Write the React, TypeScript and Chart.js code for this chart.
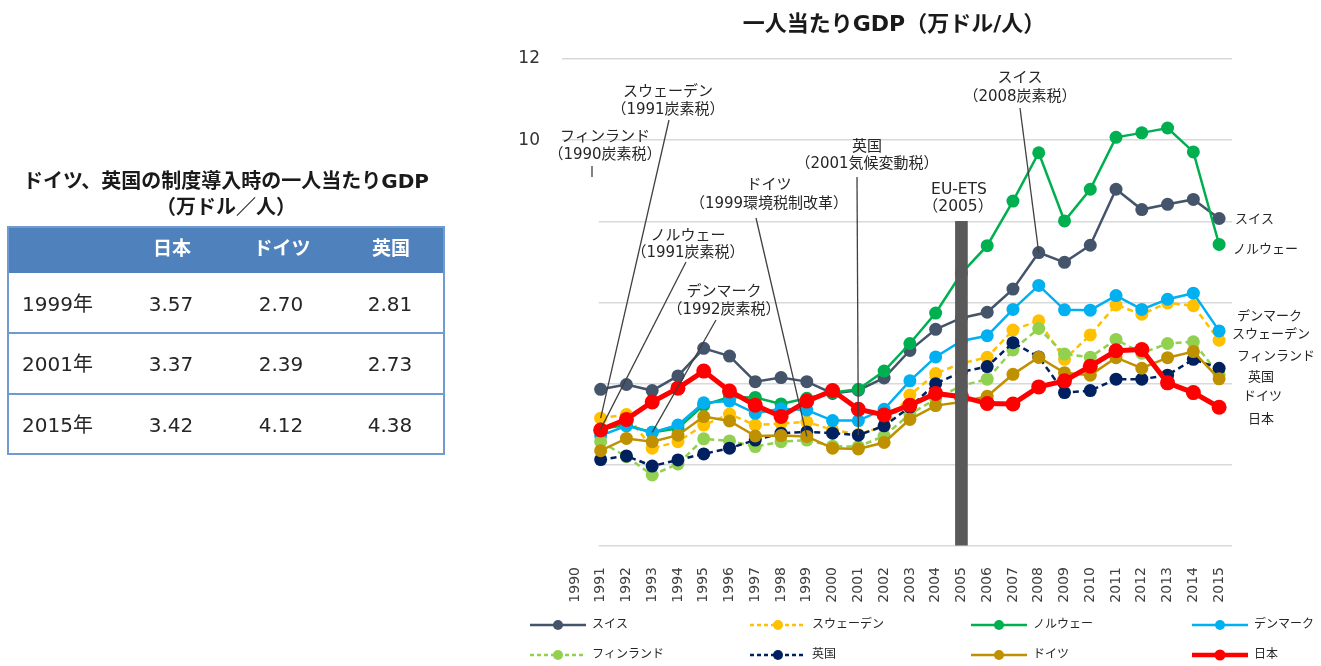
import React, { useEffect, useRef } from "react";
import { Chart, registerables } from "chart.js";

Chart.register(...registerables);

const FONT = "'DejaVu Sans', 'Noto Sans CJK JP', sans-serif";

const chartTitle = "一人当たりGDP（万ドル/人）";
const years = [
  "1990", "1991", "1992", "1993", "1994", "1995", "1996", "1997", "1998", "1999",
  "2000", "2001", "2002", "2003", "2004", "2005", "2006", "2007", "2008", "2009",
  "2010", "2011", "2012", "2013", "2014", "2015",
];

const swiss = [null, 3.86, 3.98, 3.83, 4.19, 4.87, 4.68, 4.05, 4.15, 4.05, 3.76, 3.84, 4.14, 4.82, 5.34, 5.62, 5.76, 6.33, 7.23, 6.99, 7.41, 8.79, 8.29, 8.42, 8.54, 8.07];
const sweden = [null, 3.15, 3.24, 2.41, 2.57, 2.98, 3.25, 2.98, 3.02, 3.06, 2.86, 2.75, 2.95, 3.72, 4.25, 4.5, 4.65, 5.32, 5.55, 4.6, 5.2, 5.94, 5.71, 5.99, 5.92, 5.07];
const norway = [null, 2.88, 2.98, 2.8, 2.9, 3.47, 3.67, 3.66, 3.5, 3.64, 3.78, 3.86, 4.31, 4.99, 5.74, 6.72, 7.4, 8.5, 9.69, 8.01, 8.79, 10.07, 10.18, 10.3, 9.71, 7.43];
const denmark = [null, 2.72, 2.96, 2.8, 2.98, 3.53, 3.57, 3.27, 3.38, 3.35, 3.09, 3.09, 3.37, 4.07, 4.66, 5.05, 5.18, 5.83, 6.42, 5.82, 5.81, 6.17, 5.83, 6.08, 6.23, 5.3];
const finland = [null, 2.57, 2.2, 1.75, 2.02, 2.64, 2.59, 2.45, 2.57, 2.61, 2.46, 2.45, 2.71, 3.25, 3.62, 3.95, 4.11, 4.83, 5.36, 4.73, 4.65, 5.09, 4.75, 4.99, 5.03, 4.22];
const uk = [null, 2.13, 2.22, 1.97, 2.12, 2.27, 2.41, 2.61, 2.78, 2.81, 2.78, 2.73, 2.96, 3.42, 4.0, 4.29, 4.42, 5.01, 4.66, 3.78, 3.83, 4.11, 4.11, 4.21, 4.6, 4.38];
const germany = [null, 2.35, 2.65, 2.57, 2.73, 3.19, 3.08, 2.71, 2.72, 2.7, 2.41, 2.39, 2.55, 3.12, 3.46, 3.55, 3.69, 4.23, 4.65, 4.27, 4.21, 4.64, 4.38, 4.64, 4.79, 4.12];
const japan = [null, 2.86, 3.12, 3.55, 3.89, 4.31, 3.82, 3.47, 3.19, 3.57, 3.83, 3.37, 3.23, 3.47, 3.76, 3.68, 3.51, 3.5, 3.92, 4.07, 4.43, 4.81, 4.84, 4.02, 3.78, 3.42];

const seriesNames = ["スイス", "スウェーデン", "ノルウェー", "デンマーク", "フィンランド", "英国", "ドイツ", "日本"];
const seriesColors = ["#44546A", "#FFC000", "#00B050", "#00B0F0", "#92D050", "#002060", "#BF9000", "#FF0000"];
const seriesDashed = [false, true, false, false, true, true, false, false];
const seriesData = [swiss, sweden, norway, denmark, finland, uk, germany, japan];

const euEtsYear = "2005";
const euEtsValue = 8;
const euEtsLabel = ["EU-ETS", "（2005）"];

const yMin = 0;
const yMax = 12;
const yStep = 2;
const yShownTicks = [12, 10];

// table
const tableTitle = ["ドイツ、英国の制度導入時の一人当たりGDP", "（万ドル／人）"];
const tableHeaders = ["日本", "ドイツ", "英国"];
const tableYears = ["1999年", "2001年", "2015年"];
const tableJapan = [3.57, 3.37, 3.42];
const tableGermany = [2.7, 2.39, 4.12];
const tableUK = [2.81, 2.73, 4.38];

// annotations: text lines, center x, line center ys, leader (series idx, year)
const notes = [
  { lines: ["フィンランド", "（1990炭素税）"], x: 605, ys: [137, 155], from: [592, 166], stub: [592, 177] },
  { lines: ["スウェーデン", "（1991炭素税）"], x: 668, ys: [92, 110], from: [669, 120], series: 1, year: "1991" },
  { lines: ["ノルウェー", "（1991炭素税）"], x: 688, ys: [236, 253], from: [686, 262], series: 2, year: "1991" },
  { lines: ["デンマーク", "（1992炭素税）"], x: 724, ys: [292, 310], from: [716, 320], series: 3, year: "1993" },
  { lines: ["ドイツ", "（1999環境税制改革）"], x: 769, ys: [185, 204], from: [756, 218], series: 6, year: "1999" },
  { lines: ["英国", "（2001気候変動税）"], x: 867, ys: [147, 164], from: [857, 177], series: 5, year: "2001" },
  { lines: ["スイス", "（2008炭素税）"], x: 1020, ys: [78, 97], from: [1020, 108], series: 0, year: "2008" },
];

const endLabels = [
  { text: "スイス", x: 1235, y: 220 },
  { text: "ノルウェー", x: 1233, y: 250 },
  { text: "デンマーク", x: 1237, y: 317 },
  { text: "スウェーデン", x: 1232, y: 335 },
  { text: "フィンランド", x: 1237, y: 357 },
  { text: "英国", x: 1248, y: 378 },
  { text: "ドイツ", x: 1243, y: 397 },
  { text: "日本", x: 1248, y: 420 },
];

const legendCols = [530, 750, 971, 1192];
const legendRows = [625, 655];

export default function App() {
  const ref = useRef<HTMLCanvasElement>(null);

  useEffect(() => {
    document.body.style.margin = "0";
    const canvas = ref.current;
    if (!canvas) return;
    const ctx = canvas.getContext("2d");
    if (!ctx) return;

    const txt = (c: CanvasRenderingContext2D, s: string, x: number, y: number, size: number, align: CanvasTextAlign = "center", bold = false, color = "#262626") => {
      c.save();
      c.font = `${bold ? "bold " : ""}${size}px ${FONT}`;
      c.fillStyle = color;
      c.textAlign = align;
      c.textBaseline = "middle";
      c.fillText(s, x, y);
      c.restore();
    };

    const annot = {
      id: "annot",
      beforeDatasetsDraw(chart: any) {
        const c = chart.ctx;
        const xs = chart.scales.x;
        const ys = chart.scales.y;
        const left = chart.chartArea.left - 2;
        const right = xs.getPixelForValue(1) - 2;
        const top = ys.getPixelForValue(9);
        const bottom = ys.getPixelForValue(0) + 3;
        c.save();
        c.fillStyle = "#ffffff";
        c.fillRect(left, top, right - left, bottom - top);
        c.restore();
      },
      afterDraw(chart: any) {
        const c = chart.ctx;
        const xs = chart.scales.x;
        const ys = chart.scales.y;
        txt(c, chartTitle, 894, 25, 22, "center", true, "#1a1a1a");
        for (const n of notes) {
          n.lines.forEach((l, i) => txt(c, l, n.x, n.ys[i], 15));
          c.save();
          c.strokeStyle = "#404040";
          c.lineWidth = 1.3;
          c.beginPath();
          c.moveTo(n.from[0], n.from[1]);
          if ((n as any).stub) {
            c.lineTo((n as any).stub[0], (n as any).stub[1]);
          } else {
            const idx = years.indexOf((n as any).year);
            const v = seriesData[(n as any).series][idx] as number;
            c.lineTo(xs.getPixelForValue(idx), ys.getPixelForValue(v));
          }
          c.stroke();
          c.restore();
        }
        txt(c, euEtsLabel[0], 959, 190, 15.5);
        txt(c, euEtsLabel[1], 958, 207, 15.5);
        for (const e of endLabels) txt(c, e.text, e.x, e.y, 13, "left");
        seriesNames.forEach((name, i) => {
          const x0 = legendCols[i % 4];
          const y0 = legendRows[Math.floor(i / 4)];
          c.save();
          c.strokeStyle = seriesColors[i];
          c.lineWidth = i === 7 ? 4.5 : 2.5;
          c.setLineDash(seriesDashed[i] ? [4, 3] : []);
          c.beginPath();
          c.moveTo(x0, y0);
          c.lineTo(x0 + 56, y0);
          c.stroke();
          c.setLineDash([]);
          c.fillStyle = seriesColors[i];
          c.beginPath();
          c.arc(x0 + 28, y0, i === 7 ? 5.5 : 5, 0, Math.PI * 2);
          c.fill();
          c.restore();
          txt(c, name, x0 + 62, y0, 12, "left");
        });
      },
    };

    const lineSets = seriesNames.map((name, i) => ({
      type: "line" as const,
      label: name,
      data: seriesData[i],
      borderColor: seriesColors[i],
      backgroundColor: seriesColors[i],
      pointBackgroundColor: seriesColors[i],
      pointBorderColor: seriesColors[i],
      pointBorderWidth: 0,
      pointRadius: i === 7 ? 7.5 : 6.5,
      borderWidth: i === 7 ? 5 : 2.5,
      borderDash: seriesDashed[i] ? [6, 4] : [],
      tension: 0,
      spanGaps: false,
      order: 8 - i,
    }));

    const chart = new Chart(ctx, {
      type: "line",
      data: {
        labels: years,
        datasets: [
          ...lineSets,
          {
            type: "bar" as const,
            label: "EU-ETS",
            data: years.map((y) => (y === euEtsYear ? euEtsValue : null)),
            backgroundColor: "#595959",
            barThickness: 12,
            order: 0,
          } as any,
        ],
      },
      options: {
        responsive: false,
        animation: false,
        layout: { padding: { left: 512, right: 89, top: 59, bottom: 60 } },
        plugins: { legend: { display: false }, tooltip: { enabled: false }, title: { display: false } },
        scales: {
          x: {
            type: "category",
            offset: true,
            grid: { display: false },
            border: { display: false },
            ticks: { autoSkip: false, minRotation: 90, maxRotation: 90, padding: 13, color: "#404040", font: { size: 14, family: FONT } },
            afterFit: (s: any) => { s.height = 60; },
          },
          y: {
            min: yMin,
            max: yMax,
            border: { display: false },
            grid: { color: "#d9d9d9", lineWidth: 1.5, drawTicks: false },
            ticks: {
              stepSize: yStep,
              padding: 22,
              color: "#333333",
              font: { size: 17, family: FONT },
              callback: (v: any) => (yShownTicks.includes(Number(v)) ? String(v) : ""),
            },
            afterFit: (s: any) => { s.width = 50; },
          },
        },
      } as any,
      plugins: [annot],
    });
    return () => chart.destroy();
  }, []);

  const rowYs = [304, 364, 425];
  const colXs = [171, 281, 390];
  const border = "#6F9BD1";
  const cell = (text: string, cx: number, cy: number, style: any = {}) => (
    <div key={`${text}-${cx}-${cy}`} style={{ position: "absolute", left: cx - 70, top: cy - 15, width: 140, height: 30, lineHeight: "30px", textAlign: "center", ...style }}>{text}</div>
  );

  return (
    <div style={{ position: "absolute", left: 0, top: 0, width: 1321, height: 666, overflow: "hidden", background: "#ffffff", fontFamily: FONT }}>
      <canvas ref={ref} width={1321} height={666} style={{ position: "absolute", left: 0, top: 0, width: 1321, height: 666 }} />
      <div style={{ position: "absolute", left: 0, top: 168, width: 452, textAlign: "center", fontWeight: "bold", fontSize: 20, lineHeight: "26px", color: "#1a1a1a" }}>
        {tableTitle[0]}<br />{tableTitle[1]}
      </div>
      <div style={{ position: "absolute", left: 7, top: 226, width: 438, height: 47, background: "#4F81BD" }} />
      <div style={{ position: "absolute", left: 7, top: 226, width: 438, height: 229, border: `2px solid ${border}`, boxSizing: "border-box" }} />
      <div style={{ position: "absolute", left: 7, top: 332, width: 438, height: 2, background: border }} />
      <div style={{ position: "absolute", left: 7, top: 393, width: 438, height: 2, background: border }} />
      {tableHeaders.map((h, i) => cell(h, colXs[i] + 1, 248, { color: "#ffffff", fontWeight: "bold", fontSize: 19 }))}
      {tableYears.map((y, r) => (
        <div key={y} style={{ position: "absolute", left: 22, top: rowYs[r] - 15, height: 30, lineHeight: "30px", fontSize: 20, color: "#262626" }}>{y}</div>
      ))}
      {tableYears.map((_, r) => [tableJapan, tableGermany, tableUK].map((arr, c) => cell(arr[r].toFixed(2), colXs[c], rowYs[r], { fontSize: 20, color: "#262626" })))}
    </div>
  );
}
